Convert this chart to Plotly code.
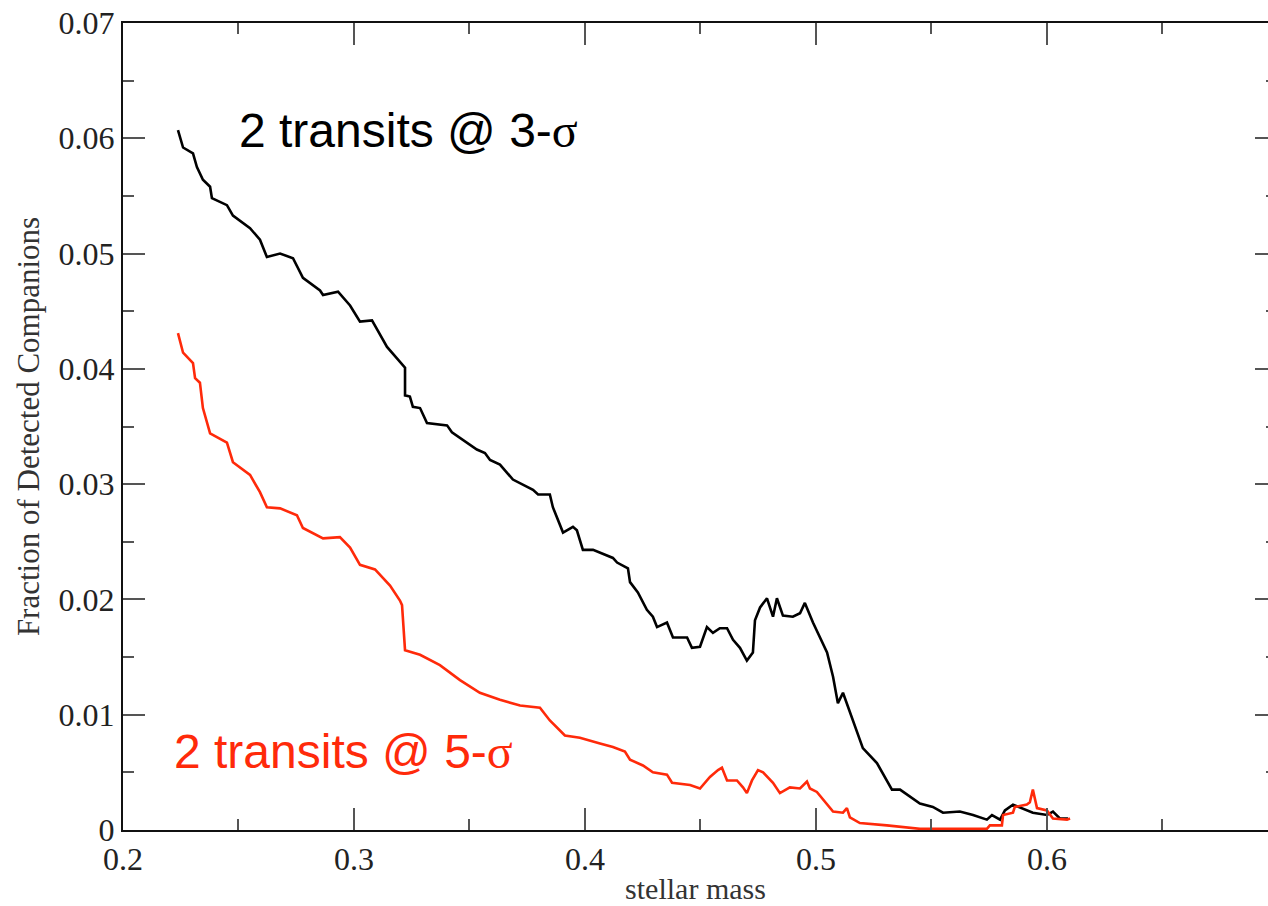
import plotly.graph_objects as go

# Detection efficiency vs. stellar mass for two significance thresholds
mass_3sigma = [0.2238, 0.2260, 0.2303, 0.2320, 0.2346, 0.2377, 0.2385, 0.2450, 0.2476, 0.2550,
               0.2593, 0.2623, 0.2680, 0.2736, 0.2779, 0.2853, 0.2866, 0.2931, 0.2983, 0.3026,
               0.3078, 0.3143, 0.3221, 0.3221, 0.3242, 0.3255, 0.3286, 0.3316, 0.3403, 0.3424,
               0.3532, 0.3567, 0.3589, 0.3632, 0.3688, 0.3775, 0.3797, 0.3848, 0.3861, 0.3905,
               0.3948, 0.3965, 0.3991, 0.4035, 0.4121, 0.4139, 0.4186, 0.4195, 0.4229, 0.4268,
               0.4294, 0.4312, 0.4355, 0.4381, 0.4442, 0.4463, 0.4498, 0.4528, 0.4554, 0.4584,
               0.4615, 0.4641, 0.4671, 0.4701, 0.4727, 0.4736, 0.4758, 0.4788, 0.4814, 0.4831,
               0.4857, 0.4900, 0.4931, 0.4952, 0.4987, 0.5048, 0.5074, 0.5095, 0.5117, 0.5160,
               0.5203, 0.5264, 0.5299, 0.5329, 0.5364, 0.5407, 0.5450, 0.5506, 0.5550, 0.5623,
               0.5680, 0.5740, 0.5762, 0.5797, 0.5818, 0.5853, 0.5939, 0.6000, 0.6026, 0.6056,
               0.6091]
frac_3sigma = [0.0607, 0.0592, 0.0587, 0.0575, 0.0564, 0.0558, 0.0548, 0.0542, 0.0533, 0.0522,
               0.0512, 0.0497, 0.0500, 0.0496, 0.0479, 0.0468, 0.0464, 0.0467, 0.0455, 0.0441,
               0.0442, 0.0419, 0.0401, 0.0377, 0.0376, 0.0367, 0.0366, 0.0353, 0.0351, 0.0345,
               0.0330, 0.0327, 0.0321, 0.0317, 0.0304, 0.0295, 0.0291, 0.0291, 0.0280, 0.0258,
               0.0263, 0.0260, 0.0243, 0.0243, 0.0236, 0.0232, 0.0227, 0.0215, 0.0206, 0.0191,
               0.0185, 0.0176, 0.0180, 0.0167, 0.0167, 0.0158, 0.0159, 0.0176, 0.0171, 0.0175,
               0.0175, 0.0165, 0.0158, 0.0147, 0.0154, 0.0182, 0.0193, 0.0201, 0.0185, 0.0201,
               0.0186, 0.0185, 0.0188, 0.0197, 0.0180, 0.0154, 0.0133, 0.0110, 0.0119, 0.0095,
               0.0071, 0.0058, 0.0046, 0.0035, 0.0035, 0.0029, 0.0023, 0.0020, 0.0015, 0.0016,
               0.0013, 0.0009, 0.0013, 0.0009, 0.0017, 0.0022, 0.0015, 0.0013, 0.0016, 0.0010,
               0.0010]

mass_5sigma = [0.2238, 0.2260, 0.2303, 0.2312, 0.2333, 0.2346, 0.2377, 0.2450, 0.2476, 0.2550,
               0.2593, 0.2623, 0.2680, 0.2753, 0.2779, 0.2866, 0.2939, 0.2983, 0.3026, 0.3091,
               0.3156, 0.3199, 0.3208, 0.3221, 0.3286, 0.3372, 0.3459, 0.3545, 0.3632, 0.3719,
               0.3805, 0.3848, 0.3913, 0.3978, 0.4065, 0.4121, 0.4173, 0.4195, 0.4251, 0.4294,
               0.4355, 0.4377, 0.4455, 0.4498, 0.4541, 0.4576, 0.4593, 0.4615, 0.4658, 0.4684,
               0.4701, 0.4723, 0.4749, 0.4771, 0.4814, 0.4844, 0.4887, 0.4931, 0.4961, 0.4974,
               0.5004, 0.5048, 0.5074, 0.5117, 0.5134, 0.5147, 0.5190, 0.5307, 0.5364, 0.5450,
               0.5740, 0.5753, 0.5805, 0.5810, 0.5853, 0.5861, 0.5913, 0.5926, 0.5939, 0.5957,
               0.6000, 0.6026, 0.6087, 0.6100]
frac_5sigma = [0.0431, 0.0414, 0.0405, 0.0392, 0.0388, 0.0366, 0.0344, 0.0336, 0.0319, 0.0308,
               0.0293, 0.0280, 0.0279, 0.0273, 0.0262, 0.0253, 0.0254, 0.0245, 0.0230, 0.0226,
               0.0212, 0.0199, 0.0195, 0.0156, 0.0152, 0.0143, 0.0130, 0.0119, 0.0113, 0.0108,
               0.0106, 0.0095, 0.0082, 0.0080, 0.0075, 0.0072, 0.0068, 0.0061, 0.0056, 0.0050,
               0.0048, 0.0041, 0.0039, 0.0036, 0.0046, 0.0052, 0.0054, 0.0043, 0.0043, 0.0037,
               0.0032, 0.0043, 0.0052, 0.0050, 0.0041, 0.0032, 0.0037, 0.0036, 0.0042, 0.0036,
               0.0033, 0.0022, 0.0016, 0.0015, 0.0019, 0.0011, 0.0006, 0.0004, 0.0003, 0.0001,
               0.0001, 0.0004, 0.0004, 0.0013, 0.0015, 0.0020, 0.0022, 0.0024, 0.0035, 0.0019,
               0.0017, 0.0010, 0.0009, 0.0010]

x_ticks = [0.2, 0.3, 0.4, 0.5, 0.6]
y_ticks = [0, 0.01, 0.02, 0.03, 0.04, 0.05, 0.06, 0.07]

BLACK = "#000000"
RED = "#ff2a0a"
SERIF = "Liberation Serif, Times New Roman, serif"
SANS = "Liberation Sans, Arial, sans-serif"

fig = go.Figure()
fig.add_trace(go.Scatter(x=mass_3sigma, y=frac_3sigma, mode="lines",
                         line=dict(color=BLACK, width=2.6), showlegend=False))
fig.add_trace(go.Scatter(x=mass_5sigma, y=frac_5sigma, mode="lines",
                         line=dict(color=RED, width=2.6), showlegend=False))

sigma = "<span style='font-family:Liberation Serif'>σ</span>"
fig.add_annotation(x=0.2494, y=0.0607, xref="x", yref="y", xanchor="left", yanchor="middle",
                   text="2 transits @ 3-" + sigma, showarrow=False,
                   font=dict(family=SANS, size=48, color=BLACK))
fig.add_annotation(x=0.2212, y=0.0068, xref="x", yref="y", xanchor="left", yanchor="middle",
                   text="2 transits @ 5-" + sigma, showarrow=False,
                   font=dict(family=SANS, size=48, color=RED))

axis_common = dict(ticks="inside", tickcolor="#555555", tickwidth=2, ticklen=22,
                   showgrid=False, zeroline=False, linecolor="#111111", linewidth=2,
                   tickfont=dict(family=SERIF, size=32, color="#222222"))

fig.update_xaxes(range=[0.2, 0.6957], tickvals=x_ticks, ticktext=["0.2", "0.3", "0.4", "0.5", "0.6"],
                 mirror="ticks", showline=True,
                 minor=dict(ticks="inside", dtick=0.05, tick0=0.2, ticklen=11, tickcolor="#555555", tickwidth=2),
                 title=dict(text="stellar mass", font=dict(family=SERIF, size=30, color="#333333"), standoff=2),
                 **axis_common)
fig.update_yaxes(range=[0, 0.07], tickvals=y_ticks,
                 ticktext=["0", "0.01", "0.02", "0.03", "0.04", "0.05", "0.06", "0.07"],
                 showline=True, mirror=False,
                 minor=dict(ticks="inside", dtick=0.005, tick0=0, ticklen=11, tickcolor="#555555", tickwidth=2),
                 title=dict(text="Fraction of Detected Companions", font=dict(family=SERIF, size=31, color="#333333"), standoff=10),
                 **axis_common)

# right-hand tick marks without a visible frame line
fig.update_layout(yaxis2=dict(overlaying="y", side="right", range=[0, 0.07], tickvals=y_ticks,
                              showticklabels=False, showline=False, showgrid=False, zeroline=False,
                              ticks="inside", ticklen=13, tickwidth=2, tickcolor="#555555",
                              minor=dict(ticks="inside", dtick=0.005, tick0=0, ticklen=2,
                                         tickcolor="#555555", tickwidth=2)))
fig.add_trace(go.Scatter(x=[None], y=[None], yaxis="y2", showlegend=False, hoverinfo="skip"))

fig.update_layout(width=1268, height=906, margin=dict(l=123, r=0, t=23, b=76),
                  plot_bgcolor="white", paper_bgcolor="white")

fig.write_html("out.html")
